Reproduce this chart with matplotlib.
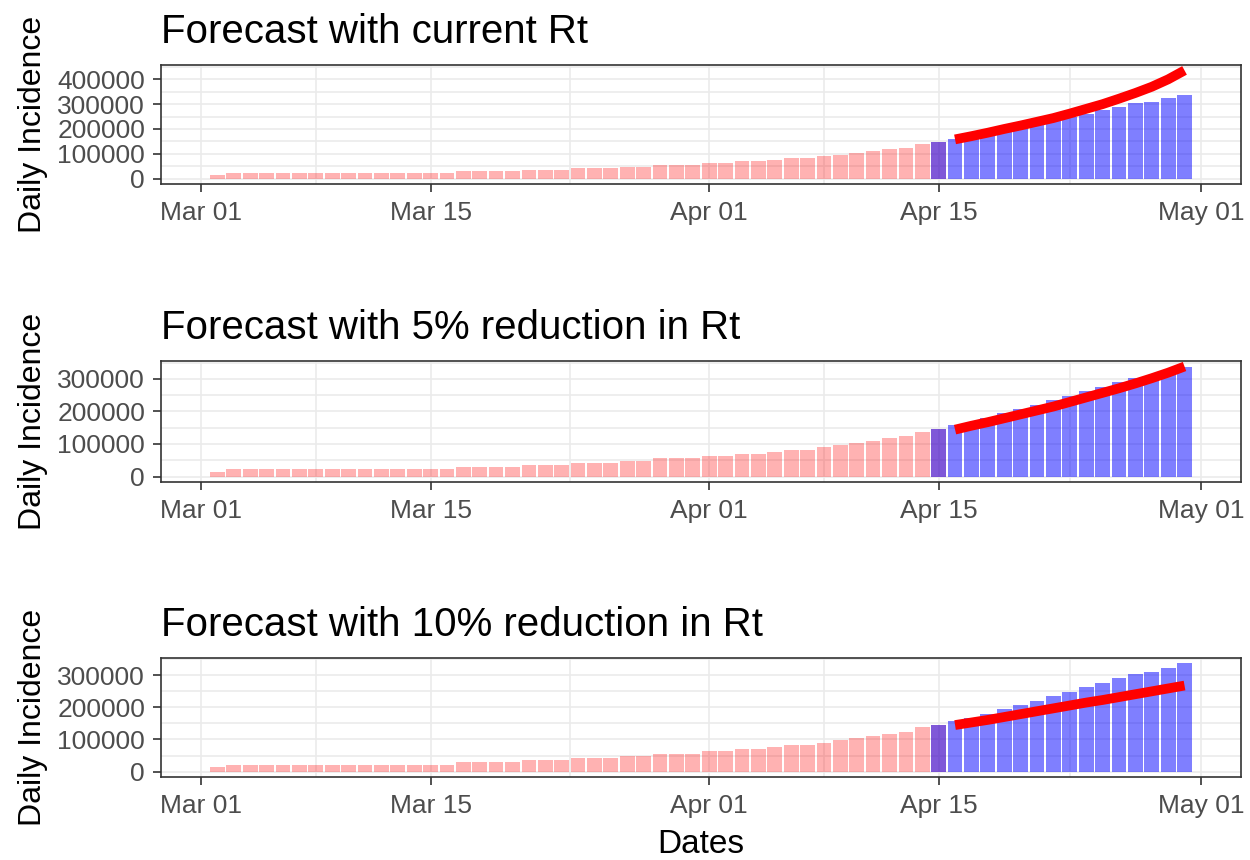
import numpy as np
import pandas as pd
import matplotlib
matplotlib.use("Agg")
import matplotlib.pyplot as plt
import matplotlib.dates as mdates
from matplotlib.ticker import MultipleLocator, FuncFormatter

# observed daily incidence (pink bars), Mar 02 - Apr 15
obs_start = "2021-03-02"
observed = [
    14000,
    22000, 22000, 22000, 22000, 22000, 22000, 22000,
    22000, 22000, 22000, 22000, 22000, 22000, 22000,
    29000, 29000, 29000, 29000,
    36000, 36000, 36000,
    41500, 41500, 41500,
    48500, 48500,
    55500, 55500, 55500,
    62700, 62700,
    69700, 69700,
    76800,
    82800, 82800,
    90000, 97000, 104000, 110000, 118000, 124000, 138000, 146000,
]

# later incidence (blue bars), Apr 15 - Apr 30
later_start = "2021-04-15"
later = [
    146000, 159000, 165500, 180000, 194000, 207000, 221000, 235000,
    248000, 262000, 276000, 290000, 303000, 310000, 324000, 337000,
]

# forecasts (red lines), Apr 16 - Apr 30
fc_start = "2021-04-16"
fc_current = [
    158000, 171000, 185000, 200000, 214000, 229000, 244000, 262000,
    281000, 300000, 322000, 345000, 370000, 400000, 436000,
]
fc_5pct = [
    144000, 156000, 167000, 179000, 191000, 203000, 215000, 229000,
    243000, 257000, 271000, 286000, 302000, 319000, 338000,
]
fc_10pct = [
    145000, 153000, 161000, 170000, 179000, 188000, 197000, 206000,
    215000, 223000, 232000, 241000, 250000, 259000, 268000,
]

titles = [
    "Forecast with current Rt",
    "Forecast with 5% reduction in Rt",
    "Forecast with 10% reduction in Rt",
]
x_breaks = ["2021-03-01", "2021-03-15", "2021-04-01", "2021-04-15", "2021-05-01"]

plt.rcParams["font.family"] = ["Liberation Sans", "DejaVu Sans"]

W, H = 1250, 860
BAR_W = 0.9
GREY20 = "#333333"
GREY30 = "#4D4D4D"
GRID = "#EBEBEB"


def dates_from(start, n):
    return pd.date_range(start, periods=n, freq="D")


def draw_panel(ax, title, forecast, show_xlabel=False):
    d_obs = mdates.date2num(dates_from(obs_start, len(observed)))
    d_later = mdates.date2num(dates_from(later_start, len(later)))
    d_fc = mdates.date2num(dates_from(fc_start, len(forecast)))

    ax.bar(d_obs, observed, width=BAR_W, color="red", alpha=0.3, linewidth=0, zorder=2)
    ax.bar(d_later, later, width=BAR_W, color="blue", alpha=0.5, linewidth=0, zorder=3)
    ax.plot(d_fc, forecast, "-", color="red", linewidth=7.0,
            solid_capstyle="butt", zorder=4)

    # ggplot-like 5% expansion
    x0 = min(d_obs.min(), d_later.min()) - BAR_W / 2
    x1 = max(d_obs.max(), d_later.max()) + BAR_W / 2
    ax.set_xlim(x0 - 0.05 * (x1 - x0), x1 + 0.05 * (x1 - x0))
    top = max(max(observed), max(later), max(forecast))
    ax.set_ylim(-0.05 * top, top * 1.05)

    majors = mdates.date2num(pd.to_datetime(x_breaks))
    ax.set_xticks(majors)
    ax.set_xticks((majors[:-1] + majors[1:]) / 2, minor=True)
    ax.xaxis.set_major_formatter(mdates.DateFormatter("%b %d"))
    ax.yaxis.set_major_locator(MultipleLocator(100000))
    ax.yaxis.set_minor_locator(MultipleLocator(50000))
    ax.yaxis.set_major_formatter(FuncFormatter(lambda v, p: f"{int(round(v))}"))

    ax.grid(which="both", color=GRID, linewidth=1.2, zorder=0)
    ax.set_axisbelow(True)
    ax.tick_params(which="major", length=5.5, width=1.2, color=GREY20,
                   labelsize=19, labelcolor=GREY30)
    ax.tick_params(axis="x", which="major", pad=7)
    ax.tick_params(axis="y", which="major", pad=6)
    ax.tick_params(which="minor", length=0)
    for s in ax.spines.values():
        s.set_color(GREY20)
        s.set_linewidth(1.2)

    ax.set_title(title, loc="left", fontsize=29, pad=16)
    ax.set_ylabel("Daily Incidence", fontsize=23)
    ax.yaxis.set_label_coords(-0.105, 0.5)
    if show_xlabel:
        ax.set_xlabel("Dates", fontsize=24, labelpad=8)


fig = plt.figure(figsize=(W / 100, H / 100), dpi=100)
panels = [(65, 184), (361, 482), (658, 777)]
forecasts = [fc_current, fc_5pct, fc_10pct]
for i, ((t, b), fc) in enumerate(zip(panels, forecasts)):
    ax = fig.add_axes([161 / W, 1 - b / H, 1080 / W, (b - t) / H])
    draw_panel(ax, titles[i], fc, show_xlabel=(i == 2))

fig.savefig("out.png", dpi=100, facecolor="white")
